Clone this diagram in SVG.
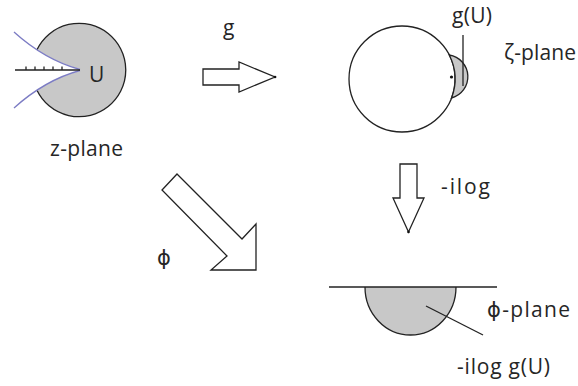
<svg xmlns="http://www.w3.org/2000/svg" width="578" height="386" viewBox="0 0 578 386">
  <style>
    .lbl { font-family: "Open Sans", "DejaVu Sans", sans-serif; font-size: 21px; fill: #262626; }
    .edge { fill: none; stroke: #222; stroke-width: 1.3; }
    .shade { fill: #c8c8c8; }
    .arrow { fill: #fff; stroke: #222; stroke-width: 1.3; stroke-linejoin: miter; }
    .cut { fill: none; stroke: #7c7cc4; stroke-width: 1.3; }
  </style>
  <rect width="578" height="386" fill="#fff"/>

  <!-- z-plane: disc U with a slit wedge removed -->
  <g id="z-plane">
    <path class="shade" d="M80,69 Q57.67,63.26 36.97,49.77 A46.7,46.7 0 1 1 36.97,90.23 Q57.67,76.74 80,71 Z"/>
    <path class="edge" d="M36.97,49.77 A46.7,46.7 0 1 1 36.97,90.23"/>
    <path class="cut" d="M14,32 Q45,60 80,69.5"/>
    <path class="cut" d="M14,108 Q45,80 80,70.5"/>
    <path class="edge" d="M15,70 H80 M26,66.5 V70 M35,66.5 V70 M44,66.5 V70 M53,66.5 V70 M62,66.5 V70"/>
    <text class="lbl" x="89" y="82">U</text>
    <text class="lbl" x="50" y="156" textLength="73" lengthAdjust="spacing">z-plane</text>
  </g>

  <!-- zeta-plane: unit disc with the image g(U) bulging out -->
  <g id="zeta-plane">
    <circle class="edge" cx="402" cy="79" r="53" fill="#fff"/>
    <path class="shade" d="M449.25,55 A22,22 0 0 1 451.5,98 A53,53 0 0 0 449.25,55 Z" stroke="#222" stroke-width="1.3"/>
    <circle cx="451.5" cy="77" r="1.6" fill="#111"/>
    <line class="edge" x1="463" y1="35" x2="463" y2="86"/>
    <text class="lbl" x="452" y="23" textLength="40" lengthAdjust="spacing">g(U)</text>
    <text class="lbl" x="504" y="60" textLength="72" lengthAdjust="spacing">ζ-plane</text>
  </g>

  <!-- phi-plane: half plane with the image -ilog g(U) -->
  <g id="phi-plane">
    <path class="shade" d="M365,287 A45.5,48 0 0 0 456,287 Z"/>
    <path class="edge" d="M365,287 A45.5,48 0 0 0 456,287"/>
    <line class="edge" x1="329" y1="287" x2="497" y2="287"/>
    <line class="edge" x1="426" y1="306" x2="483" y2="335"/>
    <text class="lbl" x="487" y="317" textLength="83" lengthAdjust="spacing">ϕ-plane</text>
    <text class="lbl" x="457" y="374" textLength="93" lengthAdjust="spacing">-ilog g(U)</text>
  </g>

  <!-- maps between the planes -->
  <g id="connectors">
    <g id="map-g">
      <path class="arrow" d="M203,69 H239 V62 L275,77 L239,92 V85 H203 Z"/>
      <circle cx="275" cy="77" r="1.3" fill="#111"/>
      <text class="lbl" x="223" y="35">g</text>
    </g>
    <g id="map-ilog">
      <path class="arrow" d="M400,164 H417 V198 H424 L408.5,232 L393,198 H400 Z"/>
      <circle cx="408.5" cy="232" r="1.3" fill="#111"/>
      <text class="lbl" x="441" y="194" textLength="49" lengthAdjust="spacing">-ilog</text>
    </g>
    <g id="map-phi">
      <path class="arrow" d="M177,174 L242,239 L256,224 V270 H211 L227,256 L162,190 Z"/>
      <text class="lbl" x="157" y="265">ϕ</text>
    </g>
  </g>
</svg>
